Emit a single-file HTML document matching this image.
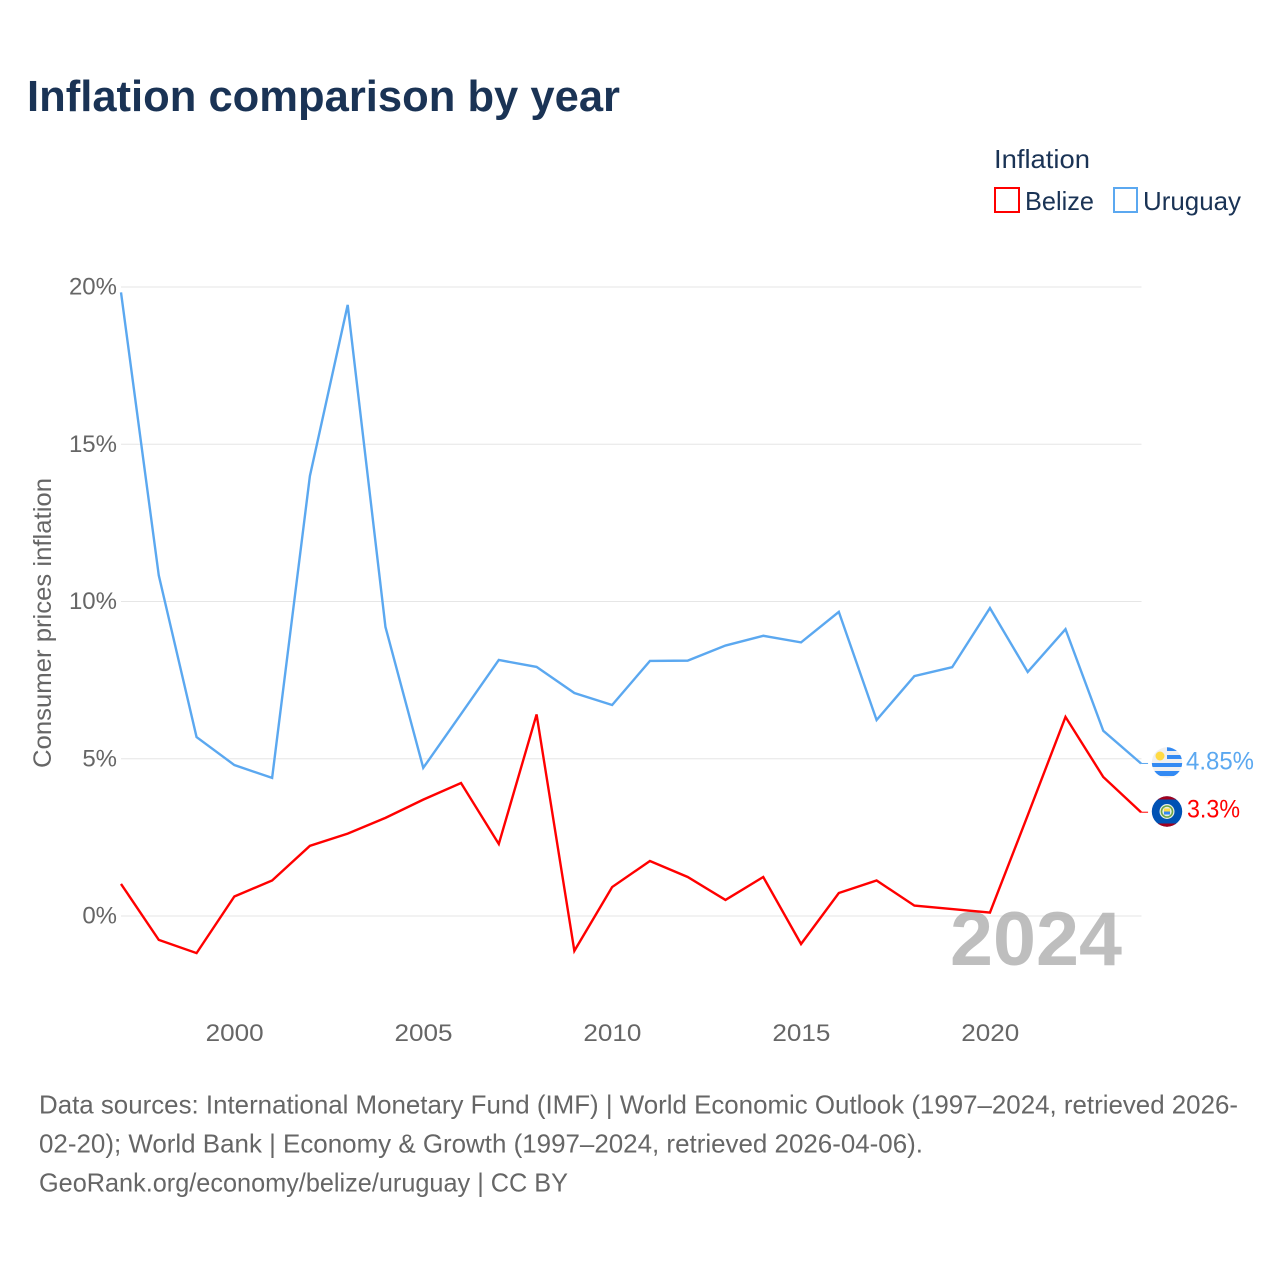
<!DOCTYPE html>
<html lang="en">
<head>
<meta charset="utf-8">
<title>Inflation comparison by year</title>
<style>
html,body{margin:0;padding:0;background:#fff;}
svg{display:block;font-family:"Liberation Sans",sans-serif;}
</style>
</head>
<body>
<svg id="chart" width="1280" height="1280" viewBox="0 0 1280 1280" xmlns="http://www.w3.org/2000/svg">
  <defs>
    <clipPath id="uy-clip"><circle cx="1167" cy="762.5" r="15.2"/></clipPath>
    <clipPath id="bz-clip"><circle cx="1167" cy="811.5" r="15.2"/></clipPath>
  </defs>
  <rect width="1280" height="1280" fill="#fff"/>
  <text x="27" y="111" font-size="44" font-weight="700" fill="#1a3355" textLength="593" lengthAdjust="spacingAndGlyphs">Inflation comparison by year</text>

  <g>
    <text x="994" y="168" font-size="26" fill="#1a3355" textLength="96" lengthAdjust="spacingAndGlyphs">Inflation</text>
    <g>
      <rect x="995" y="188" width="24" height="24" fill="#fff" stroke="#ff0000" stroke-width="2"/>
      <text x="1025" y="210" font-size="26" fill="#1a3355" textLength="69" lengthAdjust="spacingAndGlyphs">Belize</text>
    </g>
    <g>
      <rect x="1114" y="188" width="23" height="24" fill="#fff" stroke="#5ba8f0" stroke-width="2"/>
      <text x="1143" y="210" font-size="26" fill="#1a3355" textLength="98" lengthAdjust="spacingAndGlyphs">Uruguay</text>
    </g>
  </g>

  <text transform="translate(51 768) rotate(-90)" x="0" y="0" font-size="25" fill="#666" textLength="290" lengthAdjust="spacingAndGlyphs">Consumer prices inflation</text>

  <g id="grid"></g>
  <g id="yticks"></g>
  <g id="xticks"></g>

  <text x="950" y="965" font-size="76" font-weight="700" fill="#a8a8a8" fill-opacity="0.75" textLength="172" lengthAdjust="spacingAndGlyphs">2024</text>

  <g id="series"></g>

  <g>
    <g clip-path="url(#uy-clip)">
      <rect x="1151" y="747" width="32" height="32" fill="#f0f0f0"/>
      <rect x="1167" y="747" width="16" height="4" fill="#338af3"/>
      <rect x="1167" y="755" width="16" height="4" fill="#338af3"/>
      <rect x="1151" y="763" width="32" height="4" fill="#338af3"/>
      <rect x="1151" y="771" width="32" height="5" fill="#338af3"/>
      <circle cx="1160" cy="756" r="4.5" fill="#ffda44"/>
    </g>
    <text id="uy-label" x="1186" y="769.5" font-size="25" fill="#5ba8f0" textLength="68" lengthAdjust="spacingAndGlyphs">4.85%</text>
  </g>
  <g>
    <g clip-path="url(#bz-clip)">
      <rect x="1151" y="796" width="32" height="32" fill="#0052b4"/>
      <rect x="1151" y="796" width="32" height="3.5" fill="#a2001d"/>
      <rect x="1151" y="823.5" width="32" height="4" fill="#a2001d"/>
      <circle cx="1167" cy="811.5" r="7.5" fill="#e8efe4"/>
      <circle cx="1167" cy="811.5" r="5.5" fill="none" stroke="#6da544" stroke-width="1.6"/>
      <rect x="1164" y="808.5" width="6" height="3" fill="#ffda44"/>
      <rect x="1164" y="811.5" width="6" height="3" fill="#338af3"/>
    </g>
    <text id="bz-label" x="1187" y="817.5" font-size="25" fill="#ff0000" textLength="53" lengthAdjust="spacingAndGlyphs">3.3%</text>
  </g>

  <g font-size="26" fill="#666">
    <text x="39" y="1113.5" textLength="1199" lengthAdjust="spacingAndGlyphs">Data sources: International Monetary Fund (IMF) | World Economic Outlook (1997–2024, retrieved 2026-</text>
    <text x="39" y="1152.5" textLength="884" lengthAdjust="spacingAndGlyphs">02-20); World Bank | Economy &amp; Growth (1997–2024, retrieved 2026-04-06).</text>
    <text x="39" y="1191.5" textLength="529" lengthAdjust="spacingAndGlyphs">GeoRank.org/economy/belize/uruguay | CC BY</text>
  </g>
</svg>
<script>
const years = [1997,1998,1999,2000,2001,2002,2003,2004,2005,2006,2007,2008,2009,2010,2011,2012,2013,2014,2015,2016,2017,2018,2019,2020,2021,2022,2023,2024];
const uruguayValues = [19.83,10.83,5.69,4.8,4.39,13.99,19.43,9.19,4.71,6.42,8.14,7.92,7.09,6.71,8.11,8.12,8.6,8.91,8.7,9.67,6.23,7.63,7.91,9.79,7.76,9.12,5.89,4.85];
const belizeValues = [1.02,-0.76,-1.18,0.62,1.13,2.23,2.62,3.12,3.7,4.23,2.29,6.41,-1.11,0.92,1.75,1.24,0.51,1.24,-0.89,0.73,1.13,0.33,0.22,0.11,3.2,6.33,4.42,3.3];
const yTickValues = [0,5,10,15,20];
const xTickValues = [2000,2005,2010,2015,2020];

const NS = 'http://www.w3.org/2000/svg';
function xScale(year){ return 121 + (year - 1997) * 37.78; }
function yScale(value){ return 916 - value * 31.45; }

const gridGroup = document.getElementById('grid');
const yTickGroup = document.getElementById('yticks');
const xTickGroup = document.getElementById('xticks');
const seriesGroup = document.getElementById('series');

yTickValues.forEach(function(v){
  const line = document.createElementNS(NS, 'line');
  
  
  line.setAttribute('x1', 121);
  line.setAttribute('x2', 1141.5);
  line.setAttribute('y1', yScale(v));
  line.setAttribute('y2', yScale(v));
  line.setAttribute('stroke', '#e6e6e6');
  line.setAttribute('stroke-width', '1');
  gridGroup.appendChild(line);

  const label = document.createElementNS(NS, 'text');
  
  
  label.setAttribute('x', 117);
  label.setAttribute('y', yScale(v) + 7.5);
  label.setAttribute('text-anchor', 'end');
  label.setAttribute('font-size', '24');
  label.setAttribute('fill', '#666');
  label.textContent = v + '%';
  yTickGroup.appendChild(label);
});

xTickValues.forEach(function(y){
  const label = document.createElementNS(NS, 'text');
  
  
  label.setAttribute('x', xScale(y) + 0.3);
  label.setAttribute('y', 1041);
  label.setAttribute('text-anchor', 'middle');
  label.setAttribute('font-size', '24');
  label.setAttribute('fill', '#666');
  label.setAttribute('textLength', '58');
  label.setAttribute('lengthAdjust', 'spacingAndGlyphs');
  label.textContent = String(y);
  xTickGroup.appendChild(label);
});

function drawSeries(name, values, color){
  const d = values.map(function(v, i){
    return (i ? 'L' : 'M') + xScale(years[i]).toFixed(2) + ' ' + yScale(v).toFixed(2);
  }).join(' ');
  const path = document.createElementNS(NS, 'path');
  
  
  path.setAttribute('d', d);
  path.setAttribute('fill', 'none');
  path.setAttribute('stroke', color);
  path.setAttribute('stroke-width', '2.4');
  path.setAttribute('stroke-linejoin', 'miter');
  seriesGroup.appendChild(path);

  const last = values[values.length - 1];
  const lastYear = years[years.length - 1];
  const connector = document.createElementNS(NS, 'line');
  
  
  connector.setAttribute('x1', xScale(lastYear));
  connector.setAttribute('x2', xScale(lastYear) + 7);
  connector.setAttribute('y1', yScale(last));
  connector.setAttribute('y2', yScale(last));
  connector.setAttribute('stroke', color);
  connector.setAttribute('stroke-width', '1');
  seriesGroup.appendChild(connector);
}

drawSeries('belize', belizeValues, '#ff0000');
drawSeries('uruguay', uruguayValues, '#5ba8f0');
</script>
</body>
</html>
